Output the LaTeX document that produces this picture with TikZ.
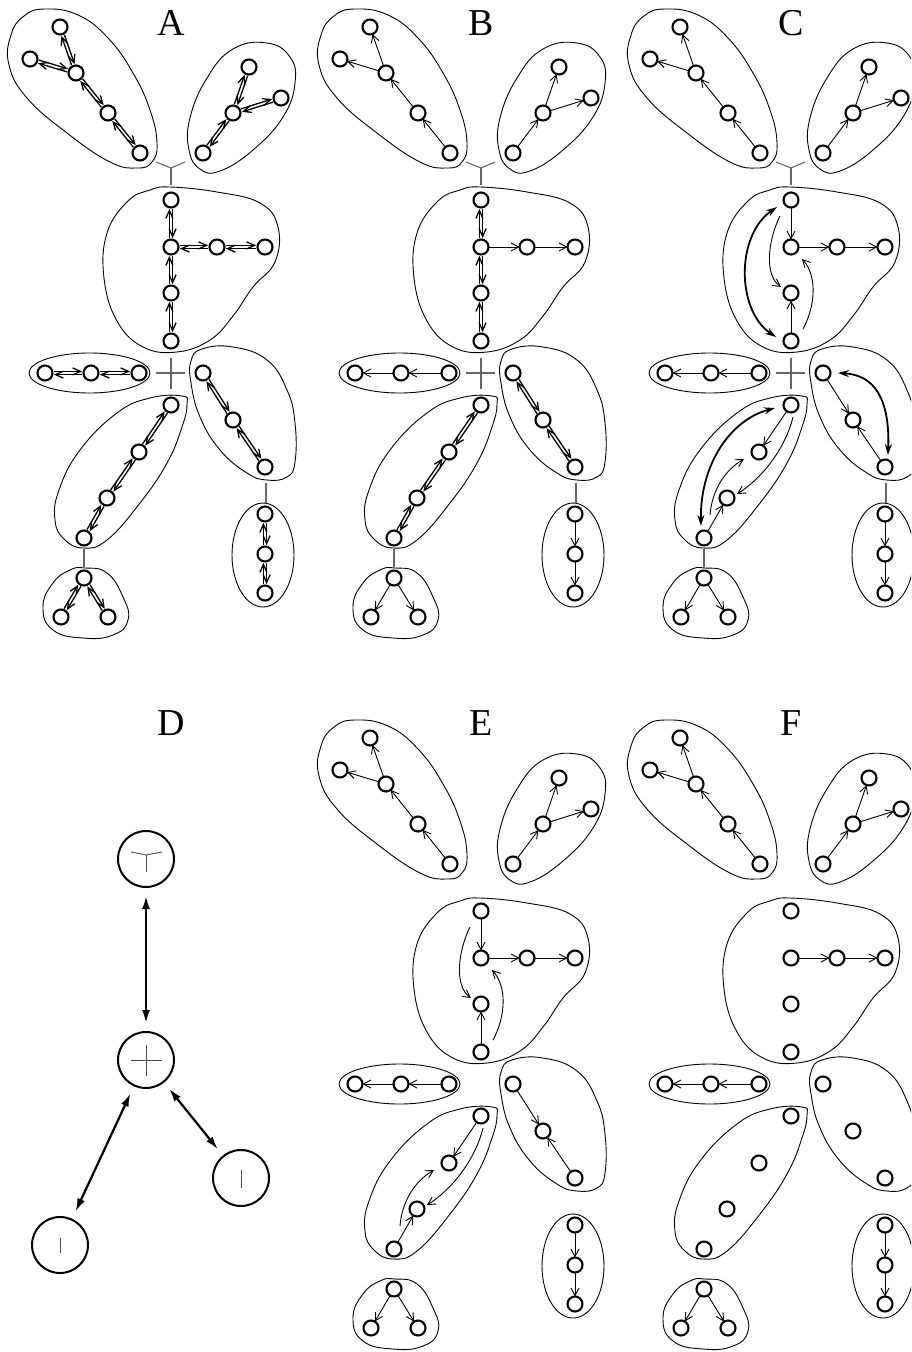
\documentclass[tikz,border=0pt]{standalone}
\usepackage{fontspec}
\setmainfont{Liberation Serif}
\usetikzlibrary{arrows.meta,calc}

\tikzset{
  v/.style={circle, draw, line width=2.1pt, minimum size=15pt, inner sep=0pt, outer sep=0pt},
  blob/.style={line width=0.9pt},
  tarr/.style={line width=0.9pt, -{Straight Barb[length=7.5pt,width=8pt,line width=0.9pt]}},
  barr/.style={line width=1.3pt, -{Straight Barb[length=8pt,width=7pt,line width=1.3pt]}},
  tkarr/.style={line width=1.8pt, {Stealth[length=11pt,width=7pt]}-{Stealth[length=11pt,width=7pt]}},
  junc/.style={line width=1.1pt, black!60},
  dnode/.style={circle, draw, line width=2pt, minimum size=56pt, inner sep=0pt},
  dglyph/.style={line width=0.9pt, black!70},
  darr/.style={line width=2.2pt, {Latex[length=13pt,width=8pt]}-{Latex[length=13pt,width=8pt]}, shorten >=8pt, shorten <=8pt},
  lbl/.style={font=\fontsize{38}{40}\selectfont}
}

% vertices of one tree decomposition, names prefixed by #1
\newcommand\vertices[1]{%
  \node[v] (#1tl1) at (60,27) {};
  \node[v] (#1tl2) at (30,59) {};
  \node[v] (#1tl3) at (76,73) {};
  \node[v] (#1tl4) at (108,113) {};
  \node[v] (#1tl5) at (140,153) {};
  \node[v] (#1tr1) at (249,67) {};
  \node[v] (#1tr2) at (281,98) {};
  \node[v] (#1tr3) at (233,113) {};
  \node[v] (#1tr4) at (203,153) {};
  \node[v] (#1c1) at (171,200) {};
  \node[v] (#1c2) at (171,247) {};
  \node[v] (#1c3) at (171,293) {};
  \node[v] (#1c4) at (171,341) {};
  \node[v] (#1c5) at (217,247) {};
  \node[v] (#1c6) at (265,247) {};
  \node[v] (#1h1) at (45,373) {};
  \node[v] (#1h2) at (91,373) {};
  \node[v] (#1h3) at (139,373) {};
  \node[v] (#1r1) at (203,373) {};
  \node[v] (#1r2) at (233,420) {};
  \node[v] (#1r3) at (265,467) {};
  \node[v] (#1d1) at (171,405) {};
  \node[v] (#1d2) at (139,452) {};
  \node[v] (#1d3) at (107,498) {};
  \node[v] (#1d4) at (84,538) {};
  \node[v] (#1b1) at (84,578) {};
  \node[v] (#1b2) at (61,617) {};
  \node[v] (#1b3) at (108,617) {};
  \node[v] (#1s1) at (265,514) {};
  \node[v] (#1s2) at (265,554) {};
  \node[v] (#1s3) at (265,593) {};
}

% outlines of the bags
\newcommand\bags{%
  \draw[blob] plot[smooth cycle, tension=0.75] coordinates {(11,35) (24,16) (45,9) (78,15) (108,38) (133,73) (150,110) (157,143) (152,162) (137,168) (110,162) (67,133) (27,98) (9,65)};
  \draw[blob] plot[smooth cycle, tension=0.75] coordinates {(189,150) (200,169) (220,171) (253,150) (283,117) (295,83) (290,57) (267,43) (233,49) (207,78) (190,118)};
  \draw[blob] plot[smooth cycle, tension=0.7] coordinates {(170,187) (217,192) (260,203) (278,227) (275,262) (253,287) (233,316) (210,340) (177,352) (143,347) (117,321) (104,278) (107,233) (128,201) (150,190)};
  \draw[blob] (89.5,373) ellipse [x radius=60.5, y radius=20];
  \draw[blob] plot[smooth cycle, tension=0.75] coordinates {(191,361) (202,349) (233,347) (267,360) (287,390) (295,423) (295,462) (287,477) (267,480) (247,473) (220,450) (200,417) (191,383)};
  \draw[blob] plot[smooth cycle, tension=0.75] coordinates {(182,396) (150,398) (117,413) (80,450) (59,490) (55,520) (64,539) (83,548) (107,540) (140,503) (167,463) (182,427) (187,404)};
  \draw[blob] plot[smooth cycle, tension=0.8] coordinates {(85,568) (107,573) (123,597) (128,620) (113,635) (83,638) (53,630) (43,607) (53,583) (70,570)};
  \draw[blob] (263,555) ellipse [x radius=31, y radius=52];
}

\newcommand\edgeone[2]{\draw[tarr] (#1) -- (#2);}
\newcommand\edgetwo[2]{%
  \draw[barr] ($(#1)!8.8pt!(#2)!1.6pt!90:(#2)$) -- ($(#2)!8.8pt!(#1)!1.6pt!-90:(#1)$);
  \draw[barr] ($(#2)!8.8pt!(#1)!1.6pt!90:(#1)$) -- ($(#1)!8.8pt!(#2)!1.6pt!-90:(#2)$);
}

% the gray separator marks between bags
\newcommand\separators{%
  \draw[junc] (156,162) -- (171,168) -- (185,162);
  \draw[junc] (171,168) -- (171,185);
  \draw[junc] (156,373) -- (185,373);
  \draw[junc] (171,358) -- (171,389);
  \draw[junc] (84,549) -- (84,567);
  \draw[junc] (266,483) -- (266,503);
}

% directed edges shared by panels B, C, E, F
\newcommand\commonedges[1]{%
  \edgeone{#1tl5}{#1tl4}\edgeone{#1tl4}{#1tl3}\edgeone{#1tl3}{#1tl1}\edgeone{#1tl3}{#1tl2}
  \edgeone{#1tr4}{#1tr3}\edgeone{#1tr3}{#1tr1}\edgeone{#1tr3}{#1tr2}
  \edgeone{#1c2}{#1c5}\edgeone{#1c5}{#1c6}
  \edgeone{#1h3}{#1h2}\edgeone{#1h2}{#1h1}
  \edgeone{#1b1}{#1b2}\edgeone{#1b1}{#1b3}
  \edgeone{#1s1}{#1s2}\edgeone{#1s2}{#1s3}
}

% thin oriented edges and shortcuts of panels C and E
\newcommand\orientededges[1]{%
  \edgeone{#1c1}{#1c2}\edgeone{#1c4}{#1c3}
  \edgeone{#1r1}{#1r2}\edgeone{#1r3}{#1r2}
  \edgeone{#1d1}{#1d2}\edgeone{#1d4}{#1d3}
  \draw[tarr] ($(#1c1)+(-11,16)$) .. controls ($(#1c1)+(-23,40)$) and ($(#1c3)+(-27,-18)$) .. ($(#1c3)+(-10,-6)$);
  \draw[tarr] ($(#1c4)+(12,-12)$) .. controls ($(#1c4)+(25,-36)$) and ($(#1c2)+(26,28)$) .. ($(#1c2)+(11,12)$);
  \draw[tarr] ($(#1d1)+(2,12)$) .. controls ($(#1d1)+(-6,45)$) and ($(#1d3)+(33,-18)$) .. ($(#1d3)+(10,-4)$);
  \draw[tarr] ($(#1d4)+(6,-23)$) .. controls ($(#1d4)+(8,-48)$) and ($(#1d2)+(-34,18)$) .. ($(#1d2)+(-15,7)$);
}

\begin{document}
\begin{tikzpicture}[x=1pt, y=-1pt]
\clip (0,0) rectangle (911,1352);
\useasboundingbox (0,0) rectangle (911,1352);

% ---------- A ----------
\node[lbl] (labA) at (171,23) {A};
\vertices{A-}
\bags
\separators
\edgetwo{A-tl5}{A-tl4}\edgetwo{A-tl4}{A-tl3}\edgetwo{A-tl3}{A-tl1}\edgetwo{A-tl3}{A-tl2}
\edgetwo{A-tr4}{A-tr3}\edgetwo{A-tr3}{A-tr1}\edgetwo{A-tr3}{A-tr2}
\edgetwo{A-c1}{A-c2}\edgetwo{A-c2}{A-c3}\edgetwo{A-c3}{A-c4}\edgetwo{A-c2}{A-c5}\edgetwo{A-c5}{A-c6}
\edgetwo{A-h3}{A-h2}\edgetwo{A-h2}{A-h1}
\edgetwo{A-r1}{A-r2}\edgetwo{A-r2}{A-r3}
\edgetwo{A-d1}{A-d2}\edgetwo{A-d2}{A-d3}\edgetwo{A-d3}{A-d4}
\edgetwo{A-b1}{A-b2}\edgetwo{A-b1}{A-b3}
\edgetwo{A-s1}{A-s2}\edgetwo{A-s2}{A-s3}

% ---------- B ----------
\begin{scope}[shift={(310,0)}]
\node[lbl] (labB) at (171,23) {B};
\vertices{B-}
\bags
\separators
\commonedges{B-}
\edgetwo{B-c1}{B-c2}\edgetwo{B-c2}{B-c3}\edgetwo{B-c3}{B-c4}
\edgetwo{B-r1}{B-r2}\edgetwo{B-r2}{B-r3}
\edgetwo{B-d1}{B-d2}\edgetwo{B-d2}{B-d3}\edgetwo{B-d3}{B-d4}
\end{scope}

% ---------- C ----------
\begin{scope}[shift={(620,0)}]
\node[lbl] (labC) at (171,23) {C};
\vertices{C-}
\bags
\separators
\commonedges{C-}
\orientededges{C-}
\draw[tkarr] ($(C-c1)+(-14,7)$) .. controls ($(C-c1)+(-55,35)$) and ($(C-c4)+(-55,-31)$) .. ($(C-c4)+(-15,-4)$);
\draw[tkarr] ($(C-r1)+(15,0)$) .. controls ($(C-r1)+(52,2)$) and ($(C-r3)+(5,-67)$) .. ($(C-r3)+(3,-12)$);
\draw[tkarr] ($(C-d4)+(-3,-12)$) .. controls ($(C-d4)+(-4,-73)$) and ($(C-d1)+(-61,15)$) .. ($(C-d1)+(-16,3)$);
\end{scope}

% ---------- D ----------
\node[lbl] (labD) at (171,723) {D};
\node[dnode] (D-y) at (146,859) {};
\node[dnode] (D-p) at (146,1060) {};
\node[dnode] (D-r) at (241,1178) {};
\node[dnode] (D-l) at (60,1245) {};
\draw[dglyph] ($(D-y)+(-15,-7)$) -- ($(D-y)+(0,-4)$) -- ($(D-y)+(16,-7)$);
\draw[dglyph] ($(D-y)+(0,-4)$) -- ($(D-y)+(0,13)$);
\draw[dglyph] ($(D-p)+(-15,0)$) -- ($(D-p)+(16,0)$);
\draw[dglyph] ($(D-p)+(0,-15)$) -- ($(D-p)+(0,16)$);
\draw[dglyph] ($(D-r)+(0,-8)$) -- ($(D-r)+(0,10)$);
\draw[dglyph] ($(D-l)+(0,-7)$) -- ($(D-l)+(0,8)$);
\draw[darr] (D-y) -- (D-p);
\draw[darr] (D-p) -- (D-l);
\draw[darr] (D-p) -- (D-r);

% ---------- E ----------
\begin{scope}[shift={(310,711)}]
\node[lbl] (labE) at (171,12) {E};
\vertices{E-}
\bags
\commonedges{E-}
\orientededges{E-}
\end{scope}

% ---------- F ----------
\begin{scope}[shift={(620,711)}]
\node[lbl] (labF) at (171,12) {F};
\vertices{F-}
\bags
\commonedges{F-}
\end{scope}
\end{tikzpicture}
\end{document}
